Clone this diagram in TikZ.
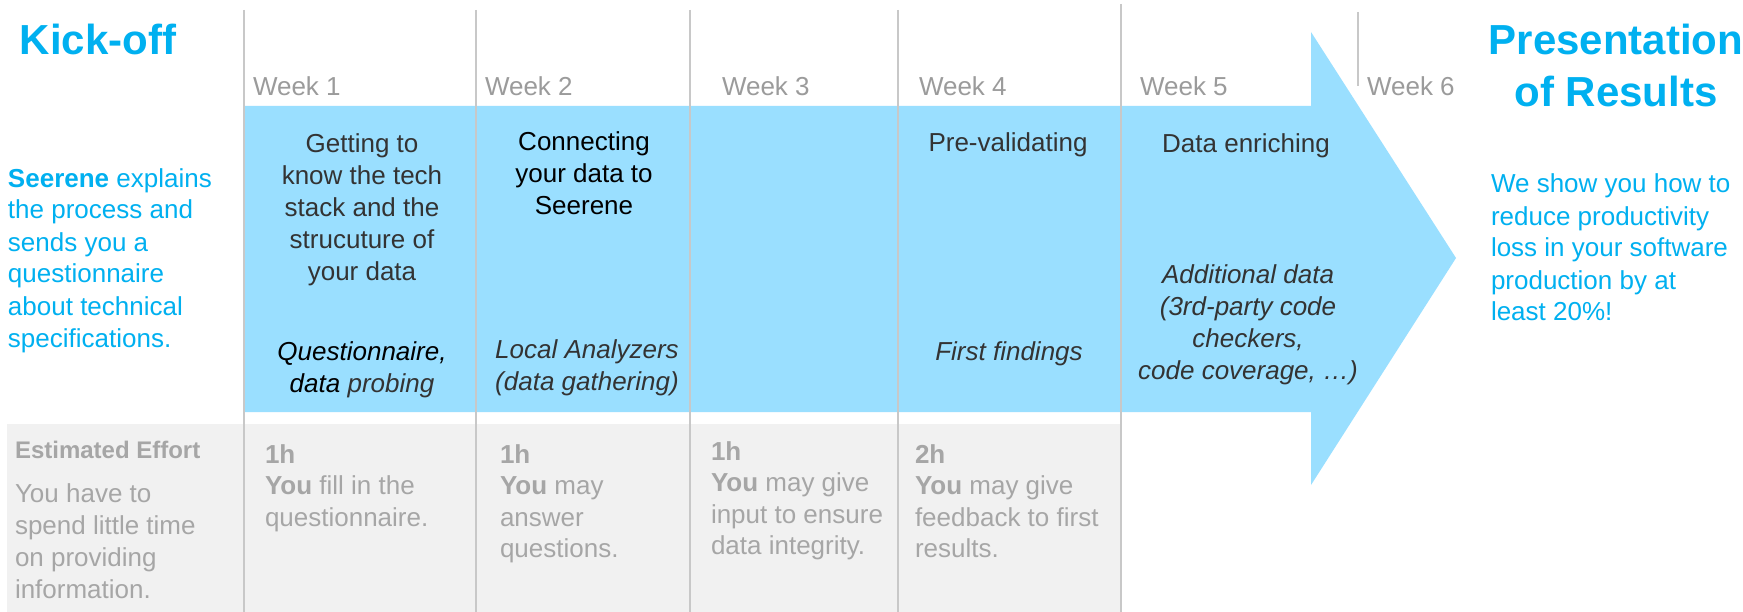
\documentclass[tikz,border=0pt]{standalone}
\usepackage{fontspec}
\setmainfont{Liberation Sans}
\definecolor{cyanT}{HTML}{00B0F0}
\definecolor{bandblue}{HTML}{9ADFFF}
\definecolor{graytext}{HTML}{A6A6A6}
\definecolor{weekgray}{HTML}{9B9B9B}
\definecolor{bandgray}{HTML}{F1F1F1}
\definecolor{linegray}{HTML}{C8C8C8}
\definecolor{darktext}{HTML}{333333}
\begin{document}
\begin{tikzpicture}[x=1pt,y=-1pt,
  every node/.style={inner sep=0pt, outer sep=0pt},
  titletext/.style={font=\fontsize{42}{52}\selectfont\bfseries, text=cyanT, align=center, anchor=base},
  weeklabel/.style={font=\fontsize{26}{32}\selectfont, text=weekgray, anchor=base west},
  bodytext/.style={font=\fontsize{26}{32}\selectfont},
  bluetext/.style={bodytext, text=darktext, align=center, anchor=base},
  effort/.style={font=\fontsize{26}{31.5}\selectfont, text=graytext, align=left, anchor=base west},
  sideblue/.style={bodytext, text=cyanT, align=left, anchor=base west},
  weekline/.style={draw=linegray, line width=1.5pt}
]
% note: the base anchor of a multi-line node is the baseline of its last line
\useasboundingbox (0,0) rectangle (1743,612);
\fill[white] (0,0) rectangle (1743,612);

% bands
\fill[bandgray] (7,424) rectangle (1121,612);
\fill[bandblue] (244,106) -- (1311,106) -- (1311,32) -- (1456,258) -- (1311,485) -- (1311,412) -- (244,412) -- cycle;

% week separators
\draw[weekline] (244,10) -- (244,612);
\draw[weekline] (476,10) -- (476,612);
\draw[weekline] (690,10) -- (690,612);
\draw[weekline] (898,10) -- (898,612);
\draw[weekline] (1121,4) -- (1121,612);
\draw[weekline] (1358,12) -- (1358,86);

% titles
\node[titletext] (kickoff) at (98,55) {Kick-off};
\node[titletext] (present) at (1616,107) {Presentation\\of Results};

% week labels
\node[weeklabel] (w1) at (253,96) {Week 1};
\node[weeklabel] (w2) at (485,96) {Week 2};
\node[weeklabel] (w3) at (722,96) {Week 3};
\node[weeklabel] (w4) at (919,96) {Week 4};
\node[weeklabel] (w5) at (1140,96) {Week 5};
\node[weeklabel] (w6) at (1367,96) {Week 6};

% side texts
\node[sideblue] (seerene) at (8,347) {\textbf{Seerene} explains\\the process and\\sends you a\\questionnaire\\about technical\\specifications.};
\node[sideblue] (weshow) at (1491,321) {We show you how to\\reduce productivity\\loss in your software\\production by at\\least 20\%!};

% blue band texts
\node[bluetext] (t1) at (362,281) {Getting to\\know the tech\\stack and the\\strucuture of\\your data};
\node[bluetext, font=\fontsize{26}{32}\selectfont\itshape] (i1) at (362,392) {\textcolor{black}{Questionnaire,}\\\textcolor{black}{data} probing};
\node[bluetext, text=black] (t2) at (584,215) {Connecting\\your data to\\Seerene};
\node[bluetext, font=\fontsize{26}{32}\selectfont\itshape] (i2) at (587,390) {Local Analyzers\\(data gathering)};
\node[bluetext] (t4) at (1008,152) {Pre-validating};
\node[bluetext, font=\fontsize{26}{32}\selectfont\itshape] (i4) at (1009,360) {First findings};
\node[bluetext] (t5) at (1246,153) {Data enriching};
\node[bluetext, font=\fontsize{26}{32}\selectfont\itshape] (i5) at (1248,379) {Additional data\\(3rd-party code\\checkers,\\code coverage, …)};

% effort row
\node[effort, font=\fontsize{24}{28}\selectfont\bfseries] (esthead) at (15,458) {Estimated Effort};
\node[effort, font=\fontsize{26}{32}\selectfont] (esttext) at (15,598) {You have to\\spend little time\\on providing\\information.};
\node[effort] (e1) at (265,526) {\textbf{1h}\\\textbf{You} fill in the\\questionnaire.};
\node[effort] (e2) at (500,557.5) {\textbf{1h}\\\textbf{You} may\\answer\\questions.};
\node[effort] (e3) at (711,554.5) {\textbf{1h}\\\textbf{You} may give\\input to ensure\\data integrity.};
\node[effort] (e4) at (915,557.5) {\textbf{2h}\\\textbf{You} may give\\feedback to first\\results.};
\end{tikzpicture}
\end{document}
